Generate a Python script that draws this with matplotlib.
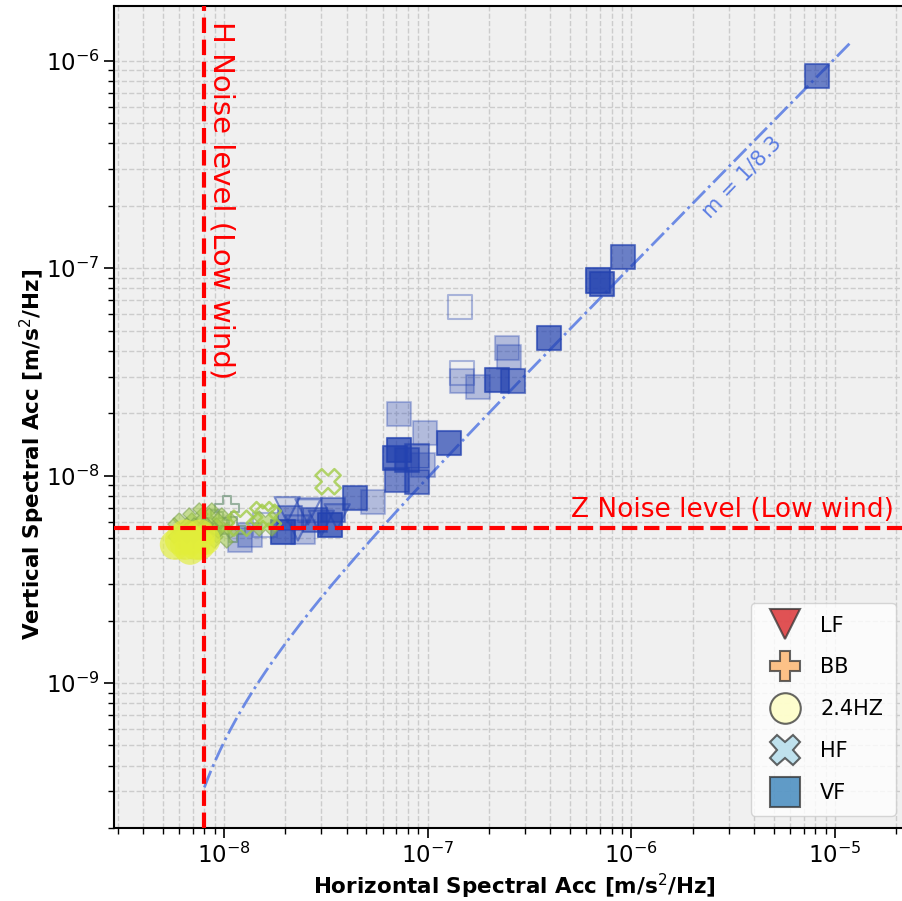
import numpy as np
import matplotlib.pyplot as plt
from matplotlib.colors import to_rgb
from matplotlib.lines import Line2D

# noise levels, low wind
H_NOISE = 7.98e-9
Z_NOISE = 5.6e-9

# linear trend  y = FIT_SLOPE * x + FIT_OFFSET
FIT_SLOPE = 0.103
FIT_OFFSET = -5.1e-10
FIT_X_RANGE = [8.0e-9, 1.18e-5]
FIT_LABEL = "m = 1/8.3"

# VF (filled squares)
vf_x = [8.15e-6, 6.86e-7, 7.17e-7, 9.1e-7, 3.94e-7, 2.45e-7, 2.5e-7, 1.47e-7,
        1.77e-7, 2.19e-7, 2.62e-7, 1.27e-7, 9.7e-8, 7.23e-8, 7.23e-8, 6.91e-8,
        7.91e-8, 8.86e-8, 7.07e-8, 8.86e-8, 9.48e-8, 4.4e-8, 5.39e-8, 3.43e-8,
        3.31e-8, 2.8e-8, 2.11e-8, 1.95e-8, 2.44e-8, 1.2e-8, 1.34e-8]
vf_y = [8.5e-7, 8.73e-8, 8.44e-8, 1.13e-7, 4.63e-8, 4.14e-8, 3.75e-8, 2.87e-8,
        2.69e-8, 2.9e-8, 2.87e-8, 1.44e-8, 1.61e-8, 1.99e-8, 1.33e-8, 1.22e-8,
        1.19e-8, 1.24e-8, 9.56e-9, 9.35e-9, 1.13e-8, 7.83e-9, 7.49e-9, 6.86e-9,
        5.8e-9, 6.13e-9, 6.27e-9, 5.37e-9, 5.37e-9, 4.91e-9, 5.19e-9]
vf_alpha = [0.65, 0.75, 0.7, 0.65, 0.7, 0.3, 0.3, 0.3,
            0.3, 0.7, 0.6, 0.7, 0.3, 0.3, 0.75, 0.7,
            0.6, 0.55, 0.6, 0.6, 0.3, 0.65, 0.3, 0.5,
            0.75, 0.55, 0.5, 0.75, 0.3, 0.3, 0.3]
# VF (open squares)
vf_open_x = [1.44e-7, 1.47e-7, 2.64e-8, 1.59e-8]
vf_open_y = [6.54e-8, 3.14e-8, 6.86e-9, 5.8e-9]

# LF (down triangles)
lf_x = [2.04e-8, 2.58e-8, 3.59e-8, 2.3e-8, 3.0e-8]
lf_y = [6.86e-9, 6.7e-9, 6.34e-9, 5.6e-9, 5.9e-9]

# BB (plus)
bb_x = [1.03e-8, 9.0e-9, 1.1e-8]
bb_y = [7.01e-9, 6.0e-9, 5.5e-9]

# HF (x)
hf_open_x = [3.24e-8, 1.55e-8, 1.65e-8, 1.2e-8]
hf_open_y = [9.35e-9, 6.49e-9, 6.3e-9, 5.9e-9]
hf_x = [6.44e-9, 7.21e-9, 8.07e-9, 9.03e-9, 8.54e-9, 9.56e-9, 7.62e-9, 1.0e-8,
        6.08e-9, 1.59e-8]
hf_y = [5.8e-9, 6.13e-9, 6.48e-9, 6.13e-9, 5.49e-9, 5.19e-9, 5.49e-9, 5.8e-9,
        5.49e-9, 5.93e-9]

# 2.4HZ (circles)
hz_x = [6.44e-9, 6.81e-9, 6.08e-9, 7.21e-9, 6.81e-9, 7.62e-9, 5.74e-9, 7.62e-9,
        6.44e-9, 8.07e-9]
hz_y = [4.65e-9, 4.91e-9, 4.91e-9, 4.65e-9, 4.4e-9, 5.19e-9, 4.65e-9, 4.65e-9,
        5.19e-9, 4.91e-9]

LEGEND_LABELS = ["LF", "BB", "2.4HZ", "HF", "VF"]
LEGEND_MARKERS = ["v", "P", "o", "X", "s"]
LEGEND_COLORS = ["#d7191c", "#fdae61", "#ffffbf", "#abd9e9", "#2c7bb6"]

BLUE = "#2342b0"
GREEN = "#a2cc48"
YELLOW = "#e2ee3a"

fig = plt.figure(figsize=(9.02, 9.01), dpi=100)
# axes run a little past the right edge of the picture
ax = fig.add_axes([114 / 902, 1 - 828 / 901, (908 - 114) / 902, (828 - 6) / 901])
ax.set_facecolor("#f0f0f0")

# VF
vf_colors = [(*to_rgb(BLUE), a) for a in vf_alpha]
ax.scatter(vf_x, vf_y, marker="s", s=300, c=vf_colors, edgecolors=vf_colors,
           linewidths=1.5, zorder=3)
ax.scatter(vf_open_x, vf_open_y, marker="s", s=300, facecolors="none",
           edgecolors=BLUE, alpha=0.35, linewidths=1.5, zorder=3)

# LF
ax.scatter(lf_x, lf_y, marker="v", s=330, facecolors=BLUE, alpha=0.15,
           zorder=3)
ax.scatter(lf_x, lf_y, marker="v", s=330, facecolors="none", edgecolors=BLUE,
           alpha=0.5, linewidths=1.5, zorder=3)

# BB
ax.scatter(bb_x, bb_y, marker="P", s=300, facecolors="none",
           edgecolors="#5f8a6a", alpha=0.6, linewidths=1.5, zorder=3)

# HF
ax.scatter(hf_x, hf_y, marker="X", s=330, c=GREEN, alpha=0.55,
           edgecolors="#7aa050", linewidths=1, zorder=3)
ax.scatter(hf_open_x, hf_open_y, marker="X", s=330, facecolors="none",
           edgecolors=GREEN, alpha=0.8, linewidths=1.8, zorder=3)

# 2.4HZ
ax.scatter(hz_x, hz_y, marker="o", s=480, c=YELLOW, alpha=0.65,
           edgecolors="none", zorder=3)

# noise levels
ax.axvline(H_NOISE, color="red", ls="--", lw=3, zorder=4)
ax.axhline(Z_NOISE, color="red", ls="--", lw=3, zorder=4)
ax.text(H_NOISE * 1.04, 1.56e-6, "H Noise level (Low wind)", color="red",
        fontsize=21, rotation=270, ha="left", va="top", zorder=5)
ax.text(1.95e-5, Z_NOISE * 1.06, "Z Noise level (Low wind)", color="red",
        fontsize=19, ha="right", va="bottom", zorder=5)

# trend line
fx = np.geomspace(FIT_X_RANGE[0], FIT_X_RANGE[1], 400)
ax.plot(fx, FIT_SLOPE * fx + FIT_OFFSET, color="royalblue", ls="-.", lw=2,
        alpha=0.75, zorder=2)
ax.text(3.5e-6, 2.75e-7, FIT_LABEL, color="royalblue", fontsize=15,
        rotation=46, ha="center", va="center", alpha=0.85)

ax.set_xscale("log")
ax.set_yscale("log")
ax.set_xlim(2.88e-9, 2.28e-5)
ax.set_ylim(2.0e-10, 1.84e-6)

ax.grid(True, which="both", ls="--", color="#cccccc", lw=1)
ax.set_axisbelow(True)
ax.tick_params(which="major", labelsize=16.5, length=7, width=1.2)
ax.tick_params(which="minor", length=4, width=1)
for sp in ax.spines.values():
    sp.set_linewidth(1.5)

ax.set_xlabel("Horizontal Spectral Acc [m/s$^2$/Hz]", fontsize=15.5,
              fontweight="bold")
ax.set_ylabel("Vertical Spectral Acc [m/s$^2$/Hz]", fontsize=15.5,
              fontweight="bold")
ax.xaxis.set_label_coords(0.504, -0.053)
ax.yaxis.set_label_coords(-0.085, 0.454)

handles = [Line2D([], [], ls="none", marker=m, ms=22, markerfacecolor=c,
                  markeredgecolor="#333333", markeredgewidth=1.5, alpha=0.75)
           for m, c in zip(LEGEND_MARKERS, LEGEND_COLORS)]
ax.legend(handles, LEGEND_LABELS, loc="lower right", fontsize=15,
          labelspacing=1.05, handletextpad=0.7, borderpad=0.6,
          borderaxespad=0.6)

fig.savefig("out.png", dpi=100)
